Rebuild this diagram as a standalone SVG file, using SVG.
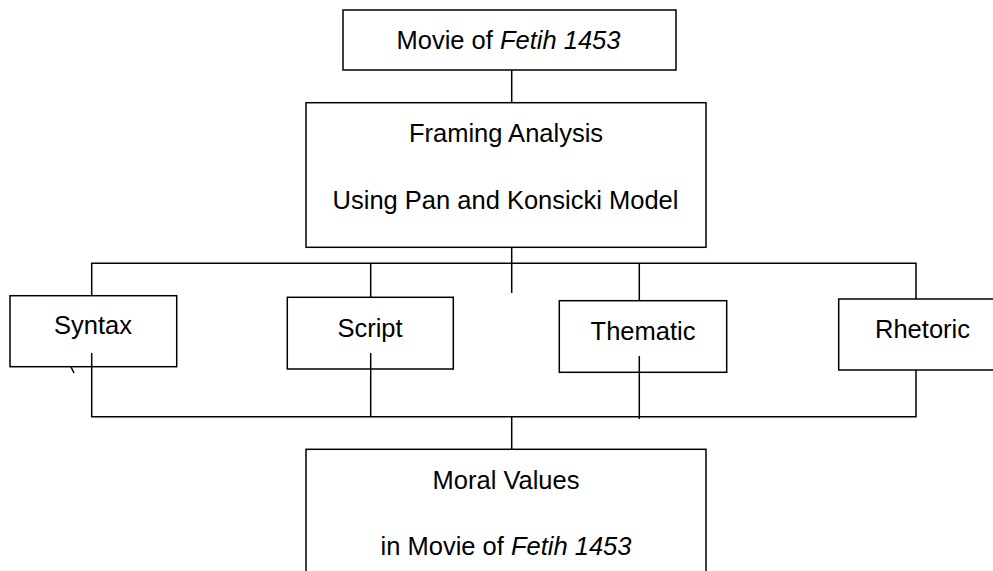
<svg xmlns="http://www.w3.org/2000/svg" width="993" height="571" viewBox="0 0 993 571">
<style>
.box{fill:#fff;stroke:#000;stroke-width:1.5}
.ln{fill:none;stroke:#000;stroke-width:1.5}
text{font-family:"Liberation Sans",Arial,sans-serif;font-size:25.5px;fill:#000;text-anchor:middle}
.it{font-style:italic}
</style>
<rect width="993" height="571" fill="#fff"/>
<g id="connectors" class="ln">
<path d="M511.7 70V103"/>
<path d="M511.7 247V293"/>
<path d="M91.7 296V263.3H916V299"/>
<path d="M370.7 263.3V297.3"/>
<path d="M639.3 263.3V300.7"/>
<path d="M91.7 353V416.7H916V370"/>
<path d="M370.7 353V416.7"/>
<path d="M639.3 356V419"/>
<path d="M511.7 416.7V449.3"/>
<path d="M71 367L74 373"/>
</g>
<g id="top">
<rect class="box" x="343" y="10" width="333" height="60"/>
<text x="508.5" y="48.5">Movie of <tspan class="it">Fetih 1453</tspan></text>
</g>
<g id="framing">
<rect class="box" x="306" y="102.7" width="400" height="144.6"/>
<text x="506" y="142">Framing Analysis</text>
<text x="505.5" y="208.5">Using Pan and Konsicki Model</text>
</g>
<g id="syntax">
<rect class="box" x="10" y="295.7" width="166.7" height="71"/>
<text x="93" y="333.5">Syntax</text>
</g>
<g id="script">
<rect class="box" x="287.3" y="297.3" width="166" height="71.7"/>
<text x="370" y="337">Script</text>
</g>
<g id="thematic">
<rect class="box" x="559.3" y="300.7" width="167.4" height="71.6"/>
<text x="643" y="339.5">Thematic</text>
</g>
<g id="rhetoric">
<rect class="box" x="838.7" y="299" width="170" height="71"/>
<text x="922.5" y="337.5">Rhetoric</text>
</g>
<g id="moral">
<rect class="box" x="306" y="449.3" width="400" height="140"/>
<text x="506" y="488.5">Moral Values</text>
<text x="506" y="555">in Movie of <tspan class="it">Fetih 1453</tspan></text>
</g>
<g class="ln"><path d="M91.7 353V366.7"/><path d="M370.7 353V369"/><path d="M639.3 356V372.3"/></g>
</svg>
